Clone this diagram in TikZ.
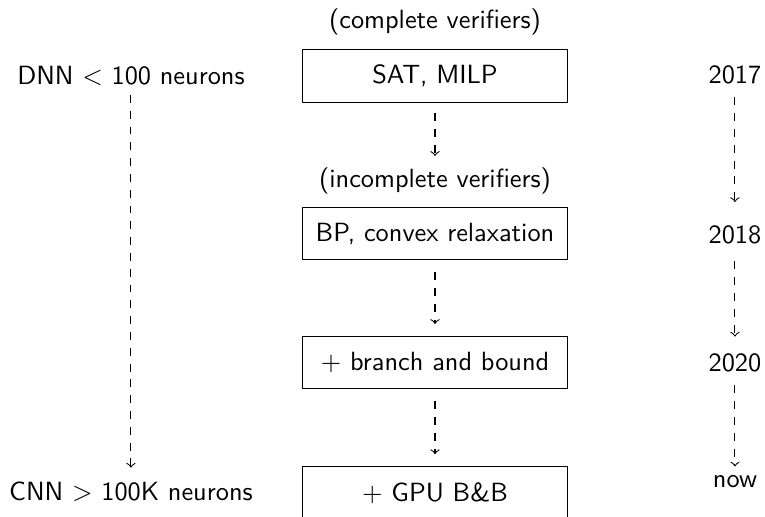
\documentclass[tikz,border=0pt]{standalone}
\begin{document}
\begin{tikzpicture}[>=to, font=\sffamily, line join=round,
  stage/.style={draw, minimum width=3.54cm, minimum height=0.7cm},
  flow/.style={->, dashed, shorten <=4.5pt, shorten >=4.5pt}]
\useasboundingbox (0,0) rectangle (10.21,6.887);
% verifiers
\node (complete) at (5.806,6.593) {(complete verifiers)};
\node[stage] (milp) at (5.806,5.872) {SAT, MILP};
\node (incomplete) at (5.806,4.471) {(incomplete verifiers)};
\node[stage] (bp) at (5.806,3.770) {BP, convex relaxation};
\node[stage] (bab) at (5.806,2.048) {$+$ branch and bound};
\node[stage] (gpu) at (5.806,0.31) {$+$ GPU B\&B};
% network size
\node (dnn) at (1.748,5.872) {DNN $<$ 100 neurons};
\node (cnn) at (1.748,0.320) {CNN $>$ 100K neurons};
% years
\node (y17) at (9.809,5.886) {2017};
\node (y18) at (9.809,3.750) {2018};
\node (y20) at (9.809,2.042) {2020};
\node (now) at (9.809,0.454) {now};
\draw[flow, shorten <=4pt, shorten >=1pt] (milp)--(incomplete);
\draw[flow] (bp)--(bab);
\draw[flow] (bab)--(gpu);
\draw[->, dashed, shorten >=2pt] (dnn)--(cnn);
\draw[->, dashed, shorten <=1.5pt, shorten >=5.5pt] (y17)--(y18);
\draw[->, dashed, shorten <=3pt, shorten >=3pt] (y18)--(y20);
\draw[->, dashed, shorten <=1.5pt] (y20)--(now);
\end{tikzpicture}
\end{document}
